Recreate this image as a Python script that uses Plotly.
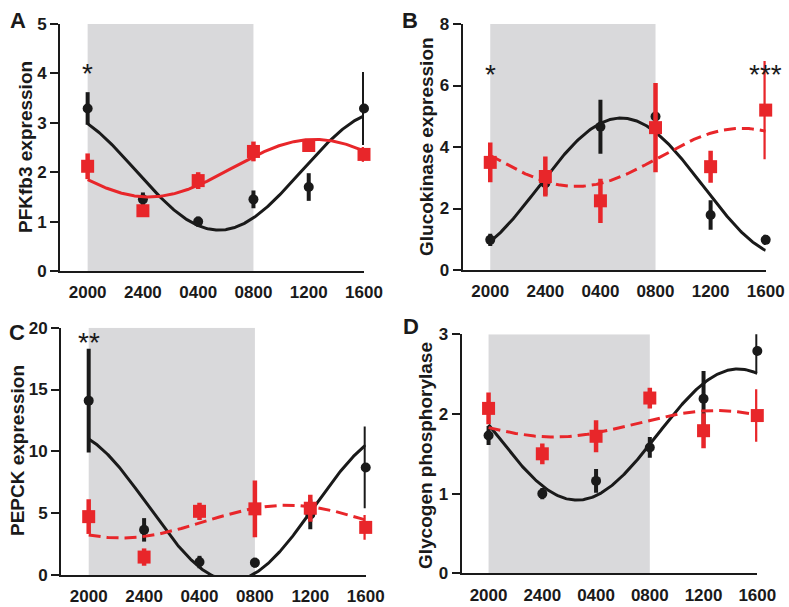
import numpy as np
import plotly.graph_objects as go

# ---------------- data ----------------
time_labels = ["2000", "2400", "0400", "0800", "1200", "1600"]
x_pos = [0, 1, 2, 3, 4, 5]

# Panel A: PFKfb3
a_black = [3.29, 1.45, 1.0, 1.45, 1.70, 3.29]
a_black_err = [0.33, 0.14, 0.10, 0.18, 0.28, 0.74]
a_red = [2.12, 1.22, 1.83, 2.42, 2.54, 2.36]
a_red_err = [0.26, 0.08, 0.17, 0.20, 0.12, 0.15]

# Panel B: Glucokinase
b_black = [0.98, 2.82, 4.66, 4.99, 1.79, 0.98]
b_black_err = [0.20, 0.38, 0.88, 0.12, 0.48, 0.17]
b_red = [3.50, 3.04, 2.25, 4.63, 3.36, 5.20]
b_red_err = [0.65, 0.65, 0.72, 1.45, 0.52, 1.60]

# Panel C: PEPCK
c_black = [14.1, 3.65, 1.05, 1.0, 4.9, 8.7]
c_black_err = [4.2, 0.95, 0.5, 0.4, 1.2, 3.3]
c_red = [4.72, 1.45, 5.15, 5.35, 5.40, 3.85]
c_red_err = [1.40, 0.70, 0.70, 2.30, 1.10, 1.00]

# Panel D: Glycogen phosphorylase
d_black = [1.73, 1.0, 1.16, 1.58, 2.19, 2.79]
d_black_err = [0.12, 0.07, 0.15, 0.13, 0.35, 0.28]
d_red = [2.07, 1.50, 1.72, 2.20, 1.79, 1.98]
d_red_err = [0.20, 0.13, 0.20, 0.13, 0.22, 0.33]

y_titles = ["PFKfb3 expression", "Glucokinase expression",
            "PEPCK expression", "Glycogen phosphorylase"]
panel_letters = ["A", "B", "C", "D"]
y_max = [5, 8, 20, 3]
y_dtick = [1, 2, 5, 1]
red_dashed = [False, True, True, True]

BLACK = "#1a1a1a"
RED = "#e8262a"
GREY = "#d9d9db"
W, H = 789, 607

# pixel geometry of each panel: (x_left, x_right, y_top, y_bottom)
geom = [(60, 364, 24, 271), (462.7, 765.7, 24, 270),
        (61, 365.7, 327.7, 575), (461.7, 757.3, 334.3, 573.3)]


def cosinor_fit(y, period=6.0):
    """Least-squares cosinor (mesor + cos + sin) fit of a series."""
    t = np.array(x_pos, dtype=float)
    w = 2 * np.pi * t / period
    A = np.column_stack([np.ones_like(t), np.cos(w), np.sin(w)])
    coef, *_ = np.linalg.lstsq(A, np.array(y, dtype=float), rcond=None)
    tt = np.linspace(0, 5, 300)
    ww = 2 * np.pi * tt / period
    return tt, coef[0] + coef[1] * np.cos(ww) + coef[2] * np.sin(ww)


panels = [
    (a_black, a_black_err, a_red, a_red_err),
    (b_black, b_black_err, b_red, b_red_err),
    (c_black, c_black_err, c_red, c_red_err),
    (d_black, d_black_err, d_red, d_red_err),
]

fig = go.Figure()
shapes = []
annotations = []
FONT = "Liberation Sans, Arial, sans-serif"

for i, (bk, bke, rd, rde) in enumerate(panels):
    n = "" if i == 0 else str(i + 1)
    xa, ya = "x" + n, "y" + n
    xl, xr, yt, yb = geom[i]
    fig.layout["xaxis" + n] = dict(
        domain=[xl / W, xr / W], range=[-0.5, 5.0], anchor=ya,
        tickmode="array", tickvals=x_pos, ticktext=time_labels,
        showline=True, linecolor=BLACK, linewidth=2,
        ticks="outside", ticklen=5, tickcolor="rgba(0,0,0,0)",
        tickfont=dict(family=FONT, size=17, color=BLACK, weight="bold"),
        showgrid=False, zeroline=False, fixedrange=True, automargin=False,
    )
    fig.layout["yaxis" + n] = dict(
        domain=[1 - yb / H, 1 - yt / H], range=[0, y_max[i]], anchor=xa,
        dtick=y_dtick[i], tick0=0,
        showline=True, linecolor=BLACK, linewidth=2,
        ticks="outside", ticklen=8, tickwidth=2, tickcolor=BLACK,
        tickfont=dict(family=FONT, size=17, color=BLACK, weight="bold"),
        showgrid=False, zeroline=False, fixedrange=True, automargin=False,
    )
    shapes.append(dict(type="rect", xref=xa, yref=ya, x0=0, x1=3, y0=0,
                       y1=y_max[i], fillcolor=GREY, line=dict(width=0),
                       layer="below"))

    # black series
    fig.add_trace(go.Scatter(
        x=x_pos, y=bk, mode="markers", xaxis=xa, yaxis=ya, cliponaxis=False,
        marker=dict(symbol="circle", size=10, color=BLACK),
        error_y=dict(type="data", array=bke, width=0, thickness=4, color=BLACK),
        showlegend=False))
    tx, ty = cosinor_fit(bk)
    fig.add_trace(go.Scatter(
        x=tx, y=ty, mode="lines", xaxis=xa, yaxis=ya,
        line=dict(color=BLACK, width=3), showlegend=False))

    # red series
    tx, ty = cosinor_fit(rd)
    fig.add_trace(go.Scatter(
        x=tx, y=ty, mode="lines", xaxis=xa, yaxis=ya,
        line=dict(color=RED, width=3,
                  dash="12px,6px" if red_dashed[i] else "solid"),
        showlegend=False))
    fig.add_trace(go.Scatter(
        x=x_pos, y=rd, mode="markers", xaxis=xa, yaxis=ya, cliponaxis=False,
        marker=dict(symbol="square", size=13, color=RED),
        error_y=dict(type="data", array=rde, width=0, thickness=4.5, color=RED),
        showlegend=False))

# y-axis titles (pixel centres)
title_pos = [(26, 147), (427, 147), (17, 451), (426, 455)]
for (px, py), t in zip(title_pos, y_titles):
    annotations.append(dict(
        text=t, x=px / W, y=1 - py / H, xref="paper", yref="paper",
        textangle=-90, showarrow=False, xanchor="center", yanchor="middle",
        font=dict(family=FONT, size=19, color=BLACK, weight="bold")))

# panel letters
letter_pos = [(17.5, 20.5), (410, 20.5), (17, 332), (411, 326.5)]
for (px, py), t in zip(letter_pos, panel_letters):
    annotations.append(dict(
        text=t, x=px / W, y=1 - py / H, xref="paper", yref="paper",
        showarrow=False, xanchor="center", yanchor="middle",
        font=dict(family=FONT, size=22, color=BLACK, weight="bold")))

# significance asterisks (data coordinates)
stars = [("x", "y", 0, 4.13, "*"), ("x2", "y2", 0, 6.57, "*"),
         ("x2", "y2", 5, 6.57, "***"), ("x3", "y3", 0, 19.4, "**")]
for xa, ya, sx, sy, t in stars:
    annotations.append(dict(
        text=t, x=sx, y=sy, xref=xa, yref=ya, showarrow=False,
        xanchor="center", yanchor="middle", yshift=-7,
        font=dict(family=FONT, size=28, color=BLACK)))

fig.update_layout(
    width=W, height=H, margin=dict(l=0, r=0, t=0, b=0, autoexpand=False),
    paper_bgcolor="white", plot_bgcolor="white",
    shapes=shapes, annotations=annotations, showlegend=False,
)
fig.write_html(
    "out.html",
    config={"displayModeBar": False},
    post_script="document.body.style.margin='0';"
                "document.body.style.overflow='hidden';",
)
